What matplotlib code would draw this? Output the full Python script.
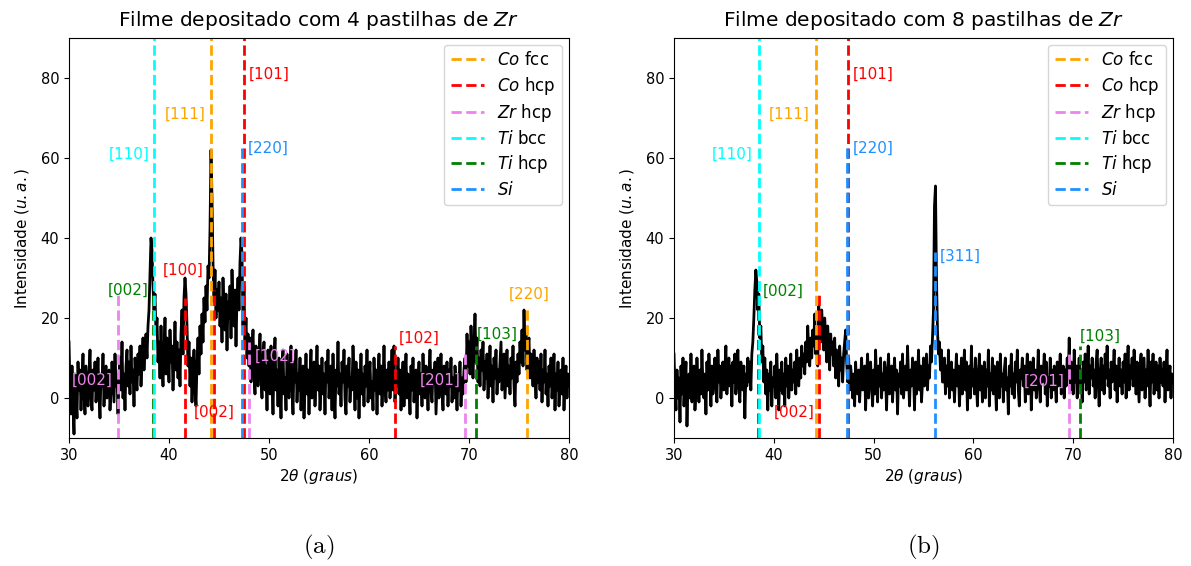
import numpy as np
import matplotlib
matplotlib.use("Agg")
import matplotlib.pyplot as plt
from matplotlib.lines import Line2D

# 2theta grid (0.1 deg step) shared by both scans
two_theta = np.round(np.arange(300, 801) / 10, 1)

# Intensity (u.a.), 10 points per degree
int_4zr = [
    14, 3, -4, 8, -2, -9, 6, 0, -5, 9,
    2, 7, -3, 5, 11, 1, -4, 8, 3, -2,
    6, 12, 0, -3, 7, 2, 9, -1, 4, 10,
    1, -5, 6, 3, 11, -2, 5, 8, 0, 4,
    7, -3, 2, 9, 4, -1, 11, 3, 6, -4,
    5, 10, 2, 14, 0, 6, -3, 8, 12, 3,
    9, 1, 13, 4, 7, -2, 10, 5, 2, 11,
    6, 13, 3, 9, 15, 7, 12, 16, 10, 18,
    22, 31, 40, 37, 28, 22, 26, 16, 20, 9,
    14, 5, 18, 8, 3, 12, 20, 6, 15, 10,
    4, 17, 9, 13, 2, 10, 19, 7, 14, 5,
    12, 3, 16, 22, 11, 25, 30, 26, 18, 8,
    14, 3, 10, -1, 7, 12, 2, -2, 9, 15,
    6, 18, 11, 21, 14, 25, 19, 28, 22, 33,
    30, 42, 62, 50, 34, 24, 32, 20, 27, 22,
    29, 18, 25, 14, 30, 21, 17, 26, 12, 24,
    20, 28, 15, 32, 23, 18, 27, 13, 25, 30,
    22, 34, 40, 36, 18, 28, 14, 20, 10, 16,
    8, 15, 4, 12, 17, 6, 1, 13, 9, 3,
    11, 16, 5, 0, 10, 14, 2, 8, -3, 12,
    6, 1, 13, 4, -4, 9, 15, 2, 7, -2,
    10, 4, -5, 8, 12, 1, 5, -3, 11, 3,
    0, 7, 13, 2, -4, 9, 4, 12, -1, 6,
    2, 10, -3, 5, 8, -5, 3, 11, 1, 7,
    -4, 6, 12, 0, 4, 9, -2, 5, 13, 2,
    8, -3, 3, 10, 1, 6, -4, 9, 4, 12,
    0, 5, 8, -3, 11, 2, -5, 7, 3, 14,
    1, 6, -2, 9, 4, 12, 0, -4, 8, 3,
    10, -1, 5, 2, 13, 6, -3, 9, 0, 7,
    -5, 4, 11, 1, 6, -2, 8, 3, 12, -1,
    5, 9, 0, 4, -3, 10, 2, 7, -4, 6,
    11, 1, 8, -2, 4, 13, 3, -1, 7, 2,
    9, 0, 5, 12, 2, 13, -1, 6, 3, 10,
    1, 7, -3, 4, 9, -2, 5, 11, 0, 6,
    3, -4, 8, 2, 10, -1, 5, 7, -5, 4,
    9, 1, 6, -2, 11, 3, 0, 8, 4, -3,
    6, 12, 2, -1, 7, 4, 9, -4, 3, 10,
    0, 5, 11, 2, -3, 8, 4, 1, 9, -2,
    7, 3, 10, -1, 5, 0, 8, 4, -3, 6,
    2, 9, -2, 5, 1, 7, 10, 4, 16, 8,
    14, 6, 18, 11, 5, 13, 21, 9, 15, 4,
    10, 3, 12, 7, 14, 2, 9, 5, 11, 0,
    6, 13, 3, 8, -1, 10, 5, 12, 1, 7,
    4, 9, 14, 2, 7, 11, 0, 6, 12, 3,
    8, 1, 10, 5, 13, 3, -2, 9, 4, 11,
    6, 14, 9, 17, 8, 22, 12, 16, 7, 13,
    15, 5, 11, 8, 3, 12, 6, 0, 10, 4,
    9, 2, 11, -1, 7, 4, 12, 1, 6, -2,
    8, 3, 10, 0, 5, 11, -3, 6, 2, 9,
    -2, 4, 7, 1, 10, -3, 5, 8, 0, 6,
    3,
]

int_8zr = [
    11, 2, -3, 7, 0, 5, -6, 8, 1, 10,
    -2, 4, 9, -7, 3, 6, 0, 11, -1, 5,
    8, -3, 2, 10, 4, -1, 7, 1, 12, 3,
    0, 6, -4, 9, 2, 11, 5, -2, 8, 1,
    6, 10, 3, -1, 12, 4, 8, 0, 5, 9,
    2, 7, 13, 1, 6, 10, 3, 8, -2, 9,
    4, 11, 1, 7, 12, 3, -1, 9, 5, 2,
    8, -5, 6, 3, 10, 4, 9, 2, 11, 14,
    20, 27, 32, 29, 22, 26, 15, 18, 9, 13,
    4, 10, 1, 7, -3, 6, 2, 9, -2, 5,
    3, 8, 0, 11, 4, -3, 7, 2, 9, 1,
    6, -2, 10, 3, 8, 0, 5, 11, 2, 7,
    4, 9, 1, 12, 6, 3, 10, 5, 13, 8,
    11, 6, 14, 9, 18, 12, 8, 15, 10, 17,
    13, 21, 11, 16, 8, 23, 19, 14, 22, 17,
    12, 20, 15, 9, 18, 13, 7, 16, 11, 14,
    8, 15, 5, 12, 9, 3, 13, 7, 10, 4,
    11, 14, 17, 9, 4, 10, 2, 8, 5, 0,
    6, -2, 9, 3, 1, 7, -1, 5, 10, 2,
    4, 8, -3, 6, 11, 0, 5, 9, 3, -2,
    7, 1, 12, 4, -1, 8, 3, 10, 0, 6,
    2, 9, 5, -3, 7, 11, 1, 4, 8, -1,
    5, 10, 2, 7, -4, 6, 3, 9, 1, 11,
    0, 4, 8, 2, 13, 5, -2, 7, 3, 10,
    6, -3, 9, 1, 5, 12, 2, 8, -1, 4,
    10, 3, 7, 11, 2, 8, 5, 13, 9, 15,
    22, 48, 53, 30, 17, 11, 14, 7, 12, 4,
    4, 10, 1, 8, 3, 12, 0, 6, 9, 2,
    7, -1, 5, 11, 3, 8, -2, 4, 10, 1,
    6, 12, 2, 9, -3, 5, 8, 0, 13, 3,
    7, 1, 10, 4, -2, 6, 11, 2, 8, -1,
    5, 9, 0, 7, 3, 12, -2, 6, 2, 10,
    1, 8, 4, -3, 9, 5, 0, 11, 3, 6,
    -1, 7, 10, 2, 5, -4, 8, 3, 11, 1,
    6, 0, 9, 4, 12, 2, -2, 7, 5, 10,
    3, 8, -1, 6, 11, 1, 5, 9, -3, 4,
    10, 2, 7, 0, 5, 12, 3, -1, 8, 4,
    6, 11, 1, 9, -2, 5, 3, 10, 0, 7,
    2, 8, 4, -1, 9, 3, 6, 11, 1, 5,
    8, 0, 7, 3, 10, 5, 15, 2, 9, 6,
    1, 12, 4, 8, 0, 6, 10, 3, 7, -1,
    9, 4, 11, 2, 6, 13, 1, 8, 5, 10,
    3, 7, 0, 9, 12, 4, -2, 6, 10, 2,
    8, 1, 11, 5, 13, 3, 7, 0, 9, 4,
    6, 12, 2, 8, -1, 5, 10, 3, 7, 1,
    9, 4, 11, 0, 6, 13, 2, 8, 5, 10,
    3, 12, 7, 1, 9, 4, -1, 8, 11, 2,
    6, 10, 0, 7, 3, 12, 5, -2, 9, 4,
    11, 1, 6, 9, 2, 8, 0, 10, 4, 7,
    3, 9, -1, 6, 12, 2, 5, 8, 0, 6,
    4,
]

phases = ['Co fcc', 'Co hcp', 'Zr hcp', 'Ti bcc', 'Ti hcp', 'Si']
phase_colors = ['orange', 'red', 'violet', 'cyan', 'green', 'dodgerblue']
phase_labels = [r'$Co$ fcc', r'$Co$ hcp', r'$Zr$ hcp', r'$Ti$ bcc', r'$Ti$ hcp', r'$Si$']

# reference peaks: position, line top, phase, plane, label x, label y, alignment
peaks_4zr_pos = [34.85, 38.4, 38.5, 41.6, 44.2, 44.5, 47.45, 47.3, 48.0, 62.55, 69.6, 70.65, 75.75]
peaks_4zr_top = [26, 26, 100, 25, 100, 27, 100, 63, 14, 13, 12, 13, 22.5]
peaks_4zr_phase = ['Zr hcp', 'Ti hcp', 'Ti bcc', 'Co hcp', 'Co fcc', 'Co hcp', 'Co hcp',
                   'Si', 'Zr hcp', 'Co hcp', 'Zr hcp', 'Ti hcp', 'Co fcc']
peaks_4zr_hkl = ['[002]', '[002]', '[110]', '[100]', '[111]', '[002]', '[101]',
                 '[220]', '[102]', '[102]', '[201]', '[103]', '[220]']
labels_4zr_x = [34.4, 37.95, 38.1, 41.4, 43.7, 44.55, 48.0, 47.9, 48.6, 63.0, 69.2, 70.8, 76.0]
labels_4zr_y = [4.5, 27, 61, 32, 71, -3.5, 81, 62.5, 10.5, 15, 4.5, 16, 26]
labels_4zr_ha = ['right', 'right', 'right', 'center', 'right', 'center', 'left',
                 'left', 'left', 'left', 'right', 'left', 'center']

peaks_8zr_pos = [38.4, 38.5, 44.2, 44.5, 47.45, 47.3, 56.15, 69.6, 70.7]
peaks_8zr_top = [27, 100, 100, 26, 100, 63, 36.5, 12, 13]
peaks_8zr_phase = ['Ti hcp', 'Ti bcc', 'Co fcc', 'Co hcp', 'Co hcp', 'Si', 'Si', 'Zr hcp', 'Ti hcp']
peaks_8zr_hkl = ['[002]', '[110]', '[111]', '[002]', '[101]', '[220]', '[311]', '[201]', '[103]']
labels_8zr_x = [38.9, 37.9, 43.6, 44.1, 47.9, 47.9, 56.65, 69.1, 70.7]
labels_8zr_y = [26.8, 61, 71, -3.5, 81, 62.5, 35.5, 4.3, 15.5]
labels_8zr_ha = ['left', 'right', 'right', 'right', 'left', 'left', 'left', 'right', 'left']

titles = [r'Filme depositado com 4 pastilhas de $Zr$', r'Filme depositado com 8 pastilhas de $Zr$']
captions = ['(a)', '(b)']

color_of = dict(zip(phases, phase_colors))

fig = plt.figure(figsize=(11.91, 5.66), dpi=100)
ax_a = fig.add_axes([69 / 1191, 128 / 566, 500 / 1191, 400 / 566])
ax_b = fig.add_axes([674 / 1191, 128 / 566, 499 / 1191, 400 / 566])

panels = [
    (ax_a, int_4zr, peaks_4zr_pos, peaks_4zr_top, peaks_4zr_phase, peaks_4zr_hkl,
     labels_4zr_x, labels_4zr_y, labels_4zr_ha),
    (ax_b, int_8zr, peaks_8zr_pos, peaks_8zr_top, peaks_8zr_phase, peaks_8zr_hkl,
     labels_8zr_x, labels_8zr_y, labels_8zr_ha),
]

for i, (ax, inten, pos, top, ph, hkl, lx, ly, lha) in enumerate(panels):
    ax.plot(two_theta, inten, color='black', linewidth=2)
    for p, t, f, h, x, y, ha in zip(pos, top, ph, hkl, lx, ly, lha):
        ax.vlines(p, -10, t, colors=color_of[f], linestyles='--', linewidth=2)
        ax.text(x, y, h, color=color_of[f], fontsize=11, ha=ha, va='center')
    ax.set_xlim(30, 80)
    ax.set_ylim(-10, 90)
    ax.set_xticks([30, 40, 50, 60, 70, 80])
    ax.set_yticks([0, 20, 40, 60, 80])
    ax.tick_params(labelsize=10.5)
    ax.set_title(titles[i], fontsize=14.5, pad=9)
    ax.set_xlabel(r'$2\theta$ $(graus)$', fontsize=11, labelpad=3)
    ax.set_ylabel(r'Intensidade $(u.a.)$', fontsize=11, labelpad=7)
    handles = [Line2D([0], [0], color=c, linestyle='--', linewidth=2) for c in phase_colors]
    ax.legend(handles, phase_labels, loc='upper right', fontsize=12, labelspacing=0.33,
              borderaxespad=0.4)
    bb = ax.get_position()
    fig.text(bb.x0 + bb.width / 2, 0.032, r'$\mathrm{' + captions[i] + '}$',
             math_fontfamily='cm', fontsize=18, ha='center', va='center')

fig.savefig('out.png', dpi=100)
